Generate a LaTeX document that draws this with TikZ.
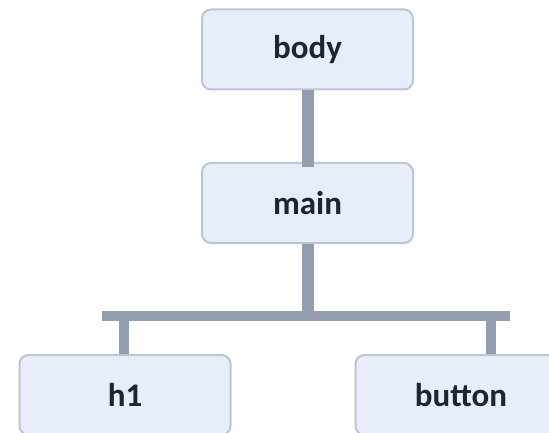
\documentclass[tikz,border=0pt]{standalone}
\usepackage{fontspec}
\setmainfont{Carlito}
\definecolor{boxfill}{HTML}{E8EEF8}
\definecolor{boxline}{HTML}{BAC5DA}
\definecolor{wire}{HTML}{939EB1}
\definecolor{label}{HTML}{1F2433}
\tikzset{
  elem/.style={draw=boxline, fill=boxfill, line width=2pt, rounded corners=9pt,
    minimum width=211pt, minimum height=80pt, inner sep=0pt,
    font=\fontsize{33}{36}\selectfont\bfseries, text=label},
  link/.style={draw=wire, line width=12pt},
  branch/.style={draw=wire, line width=10pt}
}
\begin{document}
\begin{tikzpicture}[x=1pt, y=-1pt]
  \useasboundingbox (0,0) rectangle (549,433);
  \clip (0,0) rectangle (549,433);
  % element boxes
  \node[elem] (body) at (307.5,49.5) {body};
  \node[elem] (main) at (307.5,203) {main};
  \node[elem] (h1) at (125,395) {h1};
  \node[elem] (button) at (461,395) {button};
  % horizontal rail below main
  \coordinate (railL) at (102,316);
  \coordinate (railR) at (510,316);
  \coordinate (tapL) at (124,316);
  \coordinate (tapR) at (491,316);
  \coordinate (tapM) at (308,316);
  % connectors
  \path[link] (body.south -| tapM) -- ([yshift=-5pt]main.north -| tapM);
  \path[link] (main.south -| tapM) -- ([yshift=-5pt]tapM);
  \path[branch] (railL) -- (railR);
  \path[branch] ([yshift=-5pt]tapL) -- (h1.north -| tapL);
  \path[branch] ([yshift=-5pt]tapR) -- (button.north -| tapR);
\end{tikzpicture}
\end{document}
